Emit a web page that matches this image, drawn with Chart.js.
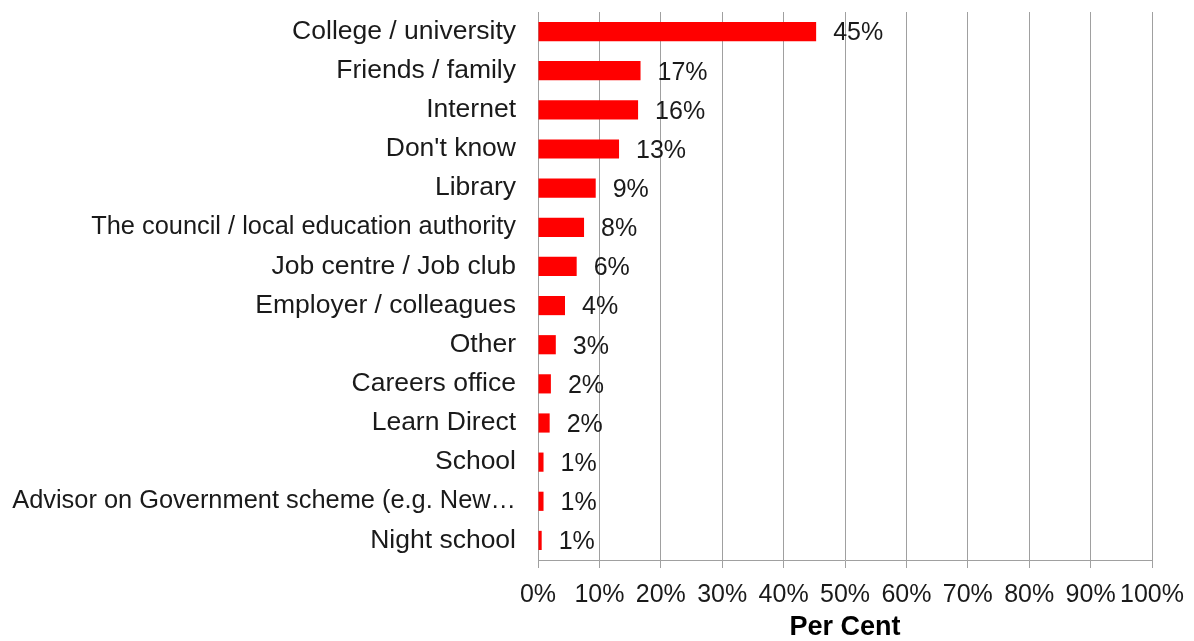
<!DOCTYPE html>
<html>
<head>
<meta charset="utf-8">
<script src="https://cdn.jsdelivr.net/npm/chart.js@4/dist/chart.umd.min.js"></script>
<style>
  html, body { margin: 0; padding: 0; background: #fff; }
</style>
</head>
<body>
<canvas id="chart" width="1194" height="641"></canvas>
<script>
// where people would go for information (per cent)
const categories = [
  'College / university',
  'Friends / family',
  'Internet',
  "Don't know",
  'Library',
  'The council / local education authority',
  'Job centre / Job club',
  'Employer / colleagues',
  'Other',
  'Careers office',
  'Learn Direct',
  'School',
  'Advisor on Government scheme (e.g. New\u2026',
  'Night school'
];
const values = [45.3, 16.7, 16.3, 13.2, 9.4, 7.5, 6.3, 4.4, 2.9, 2.1, 1.9, 0.9, 0.9, 0.6];
const tickLabels = ['0%', '10%', '20%', '30%', '40%', '50%', '60%', '70%', '80%', '90%', '100%'];

const FONT = '"Liberation Sans", Arial, sans-serif';
const gridColor = '#a0a0a0';

// value labels at the end of each bar
const valueLabels = {
  id: 'valueLabels',
  afterDatasetsDraw(chart) {
    const ctx = chart.ctx;
    const meta = chart.getDatasetMeta(0);
    ctx.save();
    ctx.font = '25px ' + FONT;
    ctx.fillStyle = '#1a1a1a';
    ctx.textAlign = 'left';
    ctx.textBaseline = 'middle';
    meta.data.forEach((bar, i) => {
      ctx.fillText(Math.round(values[i]) + '%', bar.x + 17, bar.y + 2);
    });
    ctx.restore();
  }
};

new Chart(document.getElementById('chart'), {
  type: 'bar',
  data: {
    labels: categories,
    datasets: [{
      data: values,
      backgroundColor: '#ff0000',
      borderWidth: 0,
      barPercentage: 0.49,
      categoryPercentage: 1.0
    }]
  },
  options: {
    indexAxis: 'y',
    responsive: false,
    animation: false,
    devicePixelRatio: 1,
    layout: { padding: { top: 12, right: 42, left: 0, bottom: 0 } },
    plugins: {
      legend: { display: false },
      tooltip: { enabled: false }
    },
    scales: {
      x: {
        min: 0,
        max: 100,
        ticks: {
          stepSize: 10,
          autoSkip: false,
          color: '#1a1a1a',
          font: { family: FONT, size: 25 },
          padding: 12,
          maxRotation: 0,
          callback: (v, i) => tickLabels[i]
        },
        grid: { color: gridColor, lineWidth: 1, drawTicks: true, tickLength: 8 },
        border: { display: true, color: gridColor },
        title: {
          display: true,
          text: 'Per Cent',
          color: '#000',
          font: { family: FONT, size: 27, weight: 'bold', lineHeight: 1.0 },
          padding: { top: 4, bottom: 0 }
        },
        afterFit: (scale) => {
          scale.height = 81;
          scale.paddingLeft = 0;
          scale.paddingRight = 0;
        }
      },
      y: {
        ticks: {
          autoSkip: false,
          color: '#1a1a1a',
          // the long truncated label is drawn a little tighter in the original
          font: (c) => ({ family: FONT, size: categories[c.index] && categories[c.index].length > 38 ? 25.4 : 26.5 }),
          padding: 22
        },
        grid: { display: false, drawTicks: false },
        border: { display: true, color: gridColor },
        afterFit: (scale) => {
          scale.width = 538;
          scale.paddingTop = 0;
          scale.paddingBottom = 0;
        }
      }
    }
  },
  plugins: [valueLabels]
});
</script>
</body>
</html>
